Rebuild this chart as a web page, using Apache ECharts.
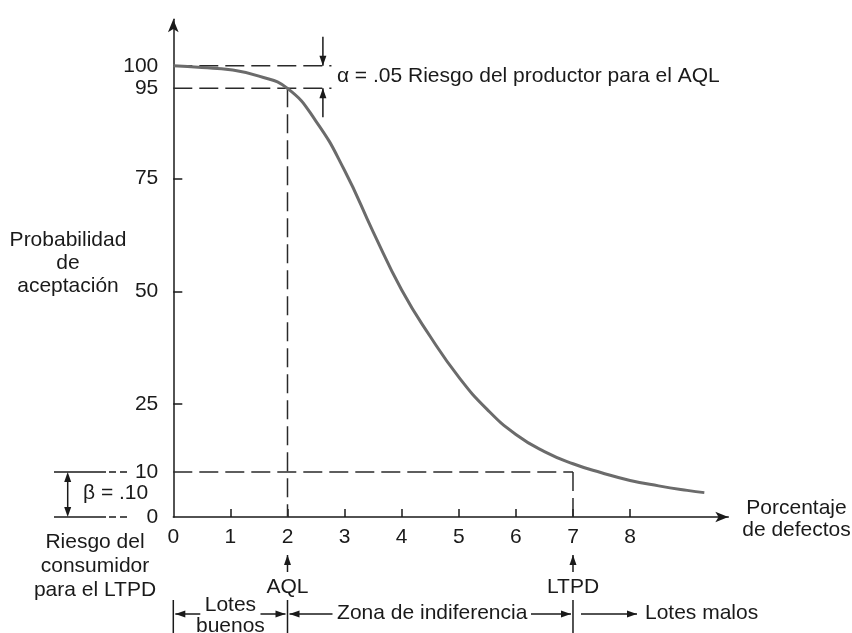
<!DOCTYPE html>
<html><head><meta charset="utf-8">
<script src="https://cdn.jsdelivr.net/npm/echarts@6/dist/echarts.min.js"></script>
<style>html,body{margin:0;padding:0;background:#fff}#c{width:852px;height:633px}</style>
</head><body><div id="c"></div>
<script>
// ---- data ----
const percentDefects = [0, 0.5, 1, 1.5, 2, 2.5, 3, 3.5, 4, 4.5, 5, 5.5, 6, 6.5, 7, 7.5, 8, 8.5, 9, 9.3];
const probAccept     = [100, 99.6, 99.1, 97.7, 95, 87.7, 76.8, 63.2, 50.3, 40, 31, 23.8, 18.3, 14.5, 11.8, 9.8, 8.1, 6.9, 5.9, 5.4];
const xTickLabels = [0, 1, 2, 3, 4, 5, 6, 7, 8];
const xTicks      = [1, 2, 3, 4, 5, 6, 7, 8];
const yTickLabels = [0, 10, 25, 50, 75, 95, 100];
const yTicks      = [25, 50, 75];
const AQL = 2, LTPD = 7, alphaLevel = 95, betaLevel = 10, topLevel = 100;
const alphaLineEnd = 2.77;   // where the 100 / 95 dashed guides stop
const alphaArrowX = 2.62;    // x of the alpha arrows

const FONT = '"Liberation Sans", Arial, Helvetica, sans-serif';
const INK = '#1a1a1a';
const chart = echarts.init(document.getElementById('c'), null, {renderer: 'canvas'});

const dashStyle = {color: '#2a2a2a', width: 1.5, type: [19, 7]};
function guide(points) {
  return {type: 'line', data: points, showSymbol: false, silent: true, z: 1,
          lineStyle: dashStyle, animation: false};
}

chart.setOption({
  animation: false,
  grid: {left: 173.3, top: 19.3, width: 555, height: 497.7, containLabel: false},
  xAxis: {
    type: 'value', min: 0, max: 9.72,
    axisLine: {show: true, symbol: ['none', 'arrow'], symbolSize: [8, 13],
               lineStyle: {color: INK, width: 1.5}},
    axisTick: {show: true, inside: true, length: 8, customValues: xTicks,
               lineStyle: {color: INK, width: 1.5}},
    axisLabel: {customValues: xTickLabels, margin: 10, fontSize: 21, color: INK, fontFamily: FONT},
    splitLine: {show: false}
  },
  yAxis: {
    type: 'value', min: 0, max: 110.3,
    axisLine: {show: true, symbol: ['none', 'arrow'], symbolSize: [8, 13],
               lineStyle: {color: INK, width: 1.5}},
    axisTick: {show: true, inside: true, length: 9, customValues: yTicks,
               lineStyle: {color: INK, width: 1.5}},
    axisLabel: {customValues: yTickLabels, margin: 15, fontSize: 21, color: INK, fontFamily: FONT},
    splitLine: {show: false}
  },
  series: [
    guide([[0, topLevel], [alphaLineEnd, topLevel]]),
    guide([[0, alphaLevel], [alphaLineEnd, alphaLevel]]),
    guide([[AQL, alphaLevel], [AQL, 0]]),
    guide([[0, betaLevel], [LTPD, betaLevel]]),
    guide([[LTPD, betaLevel], [LTPD, 0]]),
    {
      type: 'line', smooth: 0.5, showSymbol: false, z: 3,
      data: percentDefects.map((x, i) => [x, probAccept[i]]),
      lineStyle: {color: '#6b6b6b', width: 3}
    }
  ]
});

// ---- annotations placed from data coordinates ----
const P = (x, y) => chart.convertToPixel({gridIndex: 0}, [x, y]);
const [xO, y0] = P(0, 0);
const y10 = P(0, betaLevel)[1];
const y95 = P(0, alphaLevel)[1];
const y100 = P(0, topLevel)[1];
const xAQL = P(AQL, 0)[0];
const xLTPD = P(LTPD, 0)[0];
const xAlpha = P(alphaArrowX, 0)[0];
const H = 633;

const els = [];
function seg(x1, y1, x2, y2, dash) {
  els.push({type: 'line', silent: true, shape: {x1, y1, x2, y2},
            style: {stroke: INK, lineWidth: 1.5, lineDash: dash || null}});
}
function head(tx, ty, dir) {
  const L = 10, W = 3.5;
  let pts;
  if (dir === 'up')    pts = [[tx, ty], [tx - W, ty + L], [tx + W, ty + L]];
  if (dir === 'down')  pts = [[tx, ty], [tx - W, ty - L], [tx + W, ty - L]];
  if (dir === 'left')  pts = [[tx, ty], [tx + L, ty - W], [tx + L, ty + W]];
  if (dir === 'right') pts = [[tx, ty], [tx - L, ty - W], [tx - L, ty + W]];
  els.push({type: 'polygon', silent: true, shape: {points: pts}, style: {fill: INK}});
}
function arrow(x1, y1, x2, y2, dir) { seg(x1, y1, x2, y2); head(x2, y2, dir); }
function txt(x, y, t, align, lh) {
  els.push({type: 'text', silent: true, x, y,
            style: {text: t, fontSize: 21, fontFamily: FONT, fill: INK,
                    align: align || 'center', verticalAlign: 'middle', lineHeight: lh || 23}});
}

// beta bracket on the left
seg(54, y10, 106, y10); seg(109, y10, 128, y10, [7, 4]);
seg(54, y0, 106, y0);   seg(109, y0, 130, y0, [7, 4]);
seg(67.7, y10 + 6, 67.7, y0 - 6);
head(67.7, y10, 'up'); head(67.7, y0, 'down');
txt(83, (y10 + y0) / 2 - 1, 'β = .10', 'left');

// alpha arrows on the right
arrow(xAlpha, y100 - 29, xAlpha, y100, 'down');
arrow(xAlpha, y95 + 29, xAlpha, y95, 'up');
txt(xAlpha + 14, (y100 + y95) / 2 - 1, 'α = .05 Riesgo del productor para el AQL', 'left');

// axis titles
txt(68, 263, 'Probabilidad\nde\naceptación', 'center', 23);
txt(95, 566, 'Riesgo del\nconsumidor\npara el LTPD', 'center', 24);
txt(796.5, y0 + 2, 'Porcentaje\nde defectos', 'center', 22);

// AQL / LTPD markers under the axis
arrow(xAQL, y0 + 55, xAQL, y0 + 38, 'up');
txt(xAQL, y0 + 70, 'AQL');
arrow(xLTPD, y0 + 55, xLTPD, y0 + 38, 'up');
txt(xLTPD, y0 + 70, 'LTPD');

// zone row
const yb = y0 + 83, ya = y0 + 97;
seg(xO, yb, xO, H); seg(xAQL, yb, xAQL, H); seg(xLTPD, yb, xLTPD, H);
arrow(xO + 27, ya, xO + 2, ya, 'left');
arrow(xAQL - 27, ya, xAQL - 2, ya, 'right');
txt((xO + xAQL) / 2, ya + 2, 'Lotes\nbuenos', 'center', 21);
arrow(xAQL + 45, ya, xAQL + 2, ya, 'left');
arrow(xLTPD - 42, ya, xLTPD - 2, ya, 'right');
txt((xAQL + xLTPD) / 2 + 2, ya - 1, 'Zona de indiferencia', 'center');
arrow(xLTPD + 8, ya, xLTPD + 64, ya, 'right');
txt(xLTPD + 72, ya - 1, 'Lotes malos', 'left');

chart.setOption({graphic: {elements: els}});
</script>
</body></html>
